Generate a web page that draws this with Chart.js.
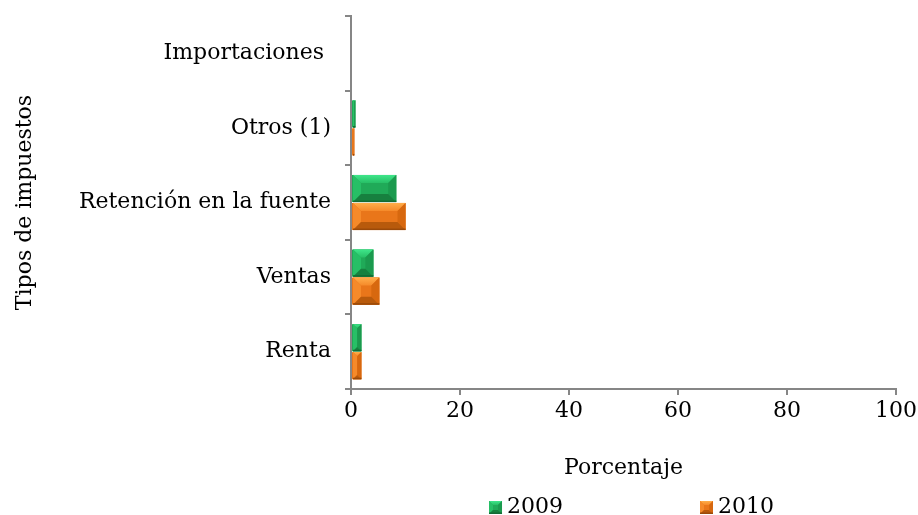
<!DOCTYPE html>
<html>
<head>
<meta charset="utf-8">
<script src="https://cdn.jsdelivr.net/npm/chart.js@4.4.0/dist/chart.umd.min.js"></script>
<style>
  html, body { margin: 0; padding: 0; background: #fff; }
</style>
</head>
<body>
<canvas id="chart" width="918" height="515"></canvas>
<script>
// Data
const categories = ["Importaciones ", "Otros (1)", "Retención en la fuente", "Ventas", "Renta"];
const values2009 = [0, 0.8, 8.3, 4.1, 1.9];
const values2010 = [0, 0.6, 10.0, 5.2, 1.9];
const seriesNames = ["2009", "2010"];
const xMin = 0, xMax = 100, xStep = 20;

const FONT = "'DejaVu Serif', serif";
const AXIS = "#868686";

const palettes = [
  { face: "#20aa58", light: "#3fe68a", left: "#27bf66", right: "#1b9a4e", dark: "#17803f", edge: "#136a34" },
  { face: "#e9761a", light: "#ffae4a", left: "#f58a2a", right: "#d7680f", dark: "#b85a0c", edge: "#9a4a0a" }
];

function drawBevelBox(ctx, l, t, w, h, pal, size) {
  const b = Math.max(0, Math.min(size, w / 2, h / 2));
  const r = l + w, bt = t + h;
  ctx.save();
  ctx.fillStyle = pal.face;
  ctx.fillRect(l, t, w, h);
  const poly = (pts, col) => {
    ctx.beginPath();
    ctx.moveTo(pts[0][0], pts[0][1]);
    for (let i = 1; i < pts.length; i++) ctx.lineTo(pts[i][0], pts[i][1]);
    ctx.closePath();
    ctx.fillStyle = col;
    ctx.fill();
  };
  const topGrad = ctx.createLinearGradient(0, t, 0, t + b);
  topGrad.addColorStop(0, pal.light);
  topGrad.addColorStop(1, pal.left);
  poly([[l, t], [r, t], [r - b, t + b], [l + b, t + b]], topGrad);
  poly([[l, t], [l + b, t + b], [l + b, bt - b], [l, bt]], pal.left);
  poly([[r, t], [r, bt], [r - b, bt - b], [r - b, t + b]], pal.right);
  poly([[l, bt], [l + b, bt - b], [r - b, bt - b], [r, bt]], pal.dark);
  ctx.fillStyle = pal.edge;
  ctx.fillRect(l, bt - 1.5, w, 1.5);
  ctx.restore();
}

// Bevel look on each bar, drawn from the bar elements themselves
const bevelPlugin = {
  id: "bevel",
  afterDatasetsDraw(chart) {
    const ctx = chart.ctx;
    chart.data.datasets.forEach((ds, i) => {
      const meta = chart.getDatasetMeta(i);
      meta.data.forEach((bar) => {
        const p = bar.getProps(["x", "y", "base", "height"], true);
        const l = Math.min(p.x, p.base) + 1;
        const w = Math.abs(p.x - p.base) - 1;
        if (w <= 0) return;
        drawBevelBox(ctx, l, p.y - p.height / 2, w, p.height, palettes[i], 8);
      });
    });
  }
};

// Wide-spaced legend under the axis title
const legendPlugin = {
  id: "wideLegend",
  afterDraw(chart) {
    const ctx = chart.ctx;
    const area = chart.chartArea;
    const box = 13, gap = 5, spacing = 137;
    ctx.save();
    ctx.font = "22px " + FONT;
    ctx.textBaseline = "alphabetic";
    const widths = chart.data.datasets.map(ds => box + gap + ctx.measureText(ds.label).width);
    const total = widths.reduce((a, b) => a + b, 0) + spacing * (widths.length - 1);
    let x = (area.left + area.right) / 2 + 8 - total / 2;
    const baseY = 513;
    chart.data.datasets.forEach((ds, i) => {
      drawBevelBox(ctx, x, baseY - 12, box, box, palettes[i], 4);
      ctx.fillStyle = "#000";
      ctx.fillText(ds.label, x + box + gap, baseY);
      x += widths[i] + spacing;
    });
    ctx.restore();
  }
};

new Chart(document.getElementById("chart"), {
  type: "bar",
  data: {
    labels: categories,
    datasets: [
      { label: seriesNames[0], data: values2009, backgroundColor: palettes[0].face, borderWidth: 0 },
      { label: seriesNames[1], data: values2010, backgroundColor: palettes[1].face, borderWidth: 0 }
    ]
  },
  options: {
    indexAxis: "y",
    responsive: false,
    animation: false,
    categoryPercentage: 0.75,
    barPercentage: 0.97,
    layout: { padding: { top: 16, right: 22, bottom: 34, left: 0 } },
    plugins: {
      legend: { display: false },
      tooltip: { enabled: false }
    },
    scales: {
      x: {
        min: xMin,
        max: xMax,
        ticks: { stepSize: xStep, color: "#000", font: { family: FONT, size: 22 }, padding: 3 },
        grid: { drawOnChartArea: false, tickLength: 6, color: AXIS, lineWidth: 2 },
        border: { color: AXIS, width: 2 },
        title: { display: true, text: "Porcentaje", color: "#000", font: { family: FONT, size: 22 }, padding: 0 },
        afterFit(scale) {
          scale.height = 92;
          scale.paddingRight = 0;
          scale.paddingLeft = 0;
        }
      },
      y: {
        ticks: { color: "#000", font: { family: FONT, size: 22 }, padding: 14 },
        grid: { drawOnChartArea: false, offset: true, tickLength: 6, color: AXIS, lineWidth: 2 },
        border: { color: AXIS, width: 2 },
        title: { display: true, text: "Tipos de impuestos", color: "#000", font: { family: FONT, size: 22 }, padding: { top: 12, bottom: 0 } },
        afterFit(scale) {
          scale.width = 351;
          scale.paddingTop = 0;
          scale.paddingBottom = 0;
        }
      }
    }
  },
  plugins: [bevelPlugin, legendPlugin]
});
</script>
</body>
</html>
